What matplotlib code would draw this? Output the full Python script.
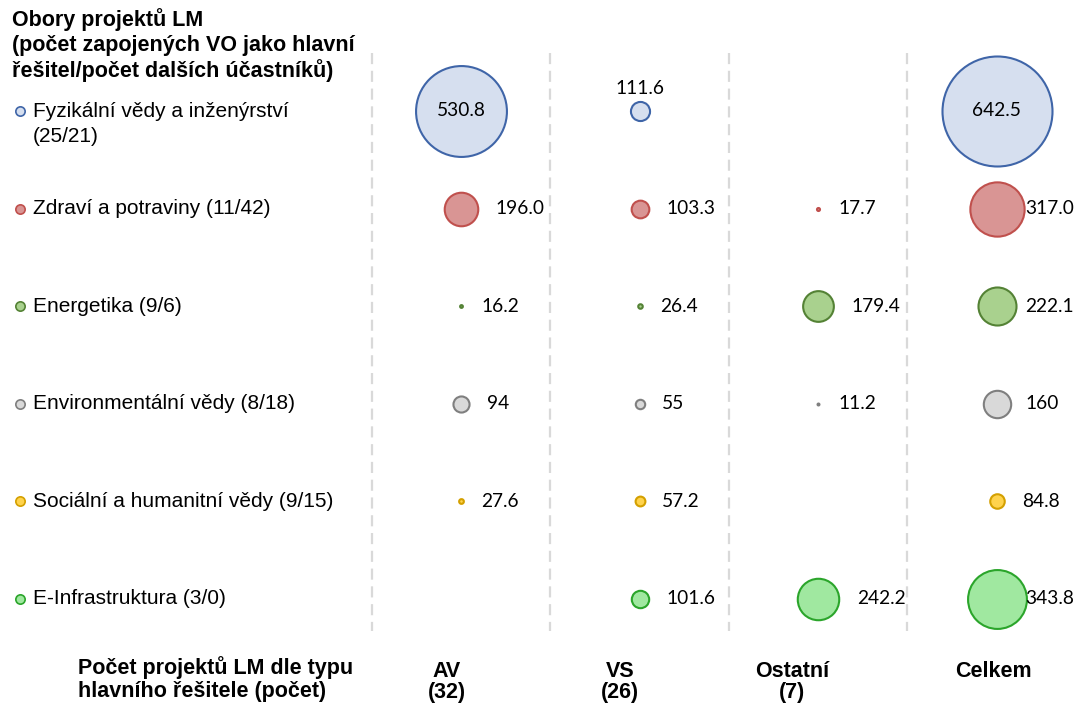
import matplotlib.pyplot as plt

# data
obory = ["Fyzikální vědy a inženýrství\n(25/21)", "Zdraví a potraviny (11/42)",
         "Energetika (9/6)", "Environmentální vědy (8/18)",
         "Sociální a humanitní vědy (9/15)", "E-Infrastruktura (3/0)"]
sloupce = ["AV\n(32)", "VS\n(26)", "Ostatní\n(7)", "Celkem"]

av = [530.8, 196.0, 16.2, 94, 27.6, None]
vs = [111.6, 103.3, 26.4, 55, 57.2, 101.6]
ostatni = [None, 17.7, 179.4, 11.2, None, 242.2]
celkem = [642.5, 317.0, 222.1, 160, 84.8, 343.8]
popisky = [["530.8", "196.0", "16.2", "94", "27.6", None],
           ["111.6", "103.3", "26.4", "55", "57.2", "101.6"],
           [None, "17.7", "179.4", "11.2", None, "242.2"],
           ["642.5", "317.0", "222.1", "160", "84.8", "343.8"]]

barvy = ["#D6DFEF", "#D99594", "#A9D18E", "#D9D9D9", "#FFD34D", "#A0E8A0"]
okraje = ["#3F65A8", "#C0504D", "#548235", "#7F7F7F", "#D4A000", "#2BA52B"]

W, H = 1075, 704
fig = plt.figure(figsize=(W / 100, H / 100), dpi=100)
ax = fig.add_axes([0, 0, 1, 1])
ax.set_xlim(-461 / 178.5, (W - 461) / 178.5)
ax.set_ylim((H - 111) / 97.6, -111 / 97.6)
ax.axis("off")

px_x = 178.5  # px na sloupec
px_y = 97.6   # px na radek
max_d = 110   # px prumer nejvetsi bubliny
num_font = dict(family="Lato", fontsize=13.8)

for c in range(1, 5):
    ax.plot([c - 1.5, c - 1.5], [-0.59, 5.33], color="#D9D9D9", lw=1.6,
            ls=(0, (5, 3)), zorder=1)

for j, col in enumerate([av, vs, ostatni, celkem]):
    for i, v in enumerate(col):
        if v is None:
            continue
        d = v / max(celkem) * max_d
        ax.scatter(j, i, s=(d * 0.72) ** 2, color=barvy[i], edgecolors=okraje[i],
                   linewidths=1.5, zorder=3)
        lab = popisky[j][i]
        if i == 0 and d > 60:
            ax.text(j, i, lab, ha="center", va="center", zorder=4, **num_font)
        elif i == 0:
            ax.text(j, i - 23 / px_y, lab, ha="center", va="center", zorder=4, **num_font)
        else:
            off = min(max(d / 2 + 18, 20), 1025 - (461 + px_x * j))
            ax.text(j + off / px_x, i, lab, ha="left", va="center", zorder=4, **num_font)

# legenda vlevo
for i, name in enumerate(obory):
    ax.scatter(-2.47, i, s=45, color=barvy[i], edgecolors=okraje[i], linewidths=1.2,
               zorder=3)
    if i == 0:
        ax.text(-2.40, i - 9 / px_y, name, ha="left", va="top", fontsize=15,
                family="Liberation Sans", linespacing=1.37)
    else:
        ax.text(-2.40, i, name, ha="left", va="center", fontsize=15,
                family="Liberation Sans")

fig.text(12 / W, 1 - 8 / H, "Obory projektů LM\n(počet zapojených VO jako hlavní\nřešitel/počet dalších účastníků)",
         ha="left", va="top", fontsize=15.5, fontweight="bold", family="Liberation Sans",
         linespacing=1.22)

fig.text(78 / W, 1 - 656 / H, "Počet projektů LM dle typu\nhlavního řešitele (počet)",
         ha="left", va="top", fontsize=15.5, fontweight="bold",
         family="Liberation Sans", linespacing=1.1)
for xc, s in zip([447, 620, 792, 993], sloupce):
    fig.text(xc / W, 1 - 661 / H, s, ha="center", va="top", fontsize=15.5,
             fontweight="bold", family="Liberation Sans", linespacing=1.0)

fig.savefig("out.png", dpi=100)
